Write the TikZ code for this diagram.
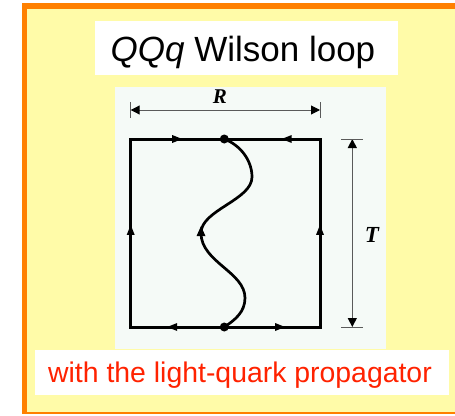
\documentclass[tikz,border=0pt]{standalone}
\usepackage{fontspec}
\setmainfont{Liberation Sans}
\newfontfamily\timesf{Liberation Serif}
\usetikzlibrary{arrows.meta,decorations.markings}
\definecolor{bgorange}{RGB}{255,128,0}
\definecolor{bgyellow}{RGB}{255,251,168}
\definecolor{panelc}{RGB}{245,250,247}
\definecolor{redtxt}{RGB}{255,34,0}
\definecolor{dimgray}{RGB}{90,90,90}
\begin{document}
\begin{tikzpicture}[x=1pt,y=-1pt,
  loopline/.style={line width=3pt, line join=miter},
  arr/.style={postaction={decorate},decoration={markings,mark=at position #1 with {\fill (0pt,0pt)--(-10pt,4pt)--(-10pt,-4pt)--cycle;}}},
  wavearr/.style={postaction={decorate},decoration={markings,mark=at position 0.999 with {\fill (7pt,0pt)--(-3pt,4.5pt)--(-3pt,-4.5pt)--cycle;}}},
  dimline/.style={draw=dimgray, line width=1pt, {Triangle[length=9pt,width=9pt,color=black]}-{Triangle[length=9pt,width=9pt,color=black]}},
  dimtick/.style={draw=dimgray, line width=1pt},
  qdot/.style={circle, fill=black, inner sep=0pt, minimum size=9pt},
  whitebox/.style={fill=white, inner sep=0pt}]
\useasboundingbox (0,0) rectangle (455,415);
\fill[white] (0,0) rectangle (455,415);
\fill[bgyellow] (22,3) rectangle (455,414);
\fill[bgorange] (22,3) rectangle (27,414);
\fill[bgorange] (22,3) rectangle (455,9);
\fill[bgorange] (22,412) rectangle (455,414);
% title
\node (titlebox) [whitebox, minimum width=303pt, minimum height=54pt] at (246.5,48) {};
\node (title) [anchor=base, inner sep=0pt, font=\fontsize{35}{40}\selectfont] at (243,61) {\textit{QQq} Wilson loop};
% panel
\fill[panelc] (115,87) rectangle (386,349);
% caption
\node (capbox) [whitebox, minimum width=414pt, minimum height=45pt] at (242,372.5) {};
\node (caption) [anchor=base, inner sep=0pt, text=redtxt, font=\fontsize{28.4}{32}\selectfont] at (240,382) {with the light-quark propagator};
% loop
\coordinate (TL) at (130.7,139);
\coordinate (TR) at (320,139);
\coordinate (BL) at (130.7,327);
\coordinate (BR) at (320,327);
\coordinate (Tq) at (224.3,139);
\coordinate (Bq) at (224.3,327);
\coordinate (M) at (201,233);
\draw[loopline] (TL) rectangle (BR);
\path[arr=0.61] (Bq) -- (BL);
\path[arr=0.543] (BL) -- (TL);
\path[arr=0.55] (TL) -- (Tq);
\path[arr=0.635] (Bq) -- (BR);
\path[arr=0.543] (BR) -- (TR);
\path[arr=0.40] (TR) -- (Tq);
% light-quark propagator
\draw[line width=2.7pt, wavearr] (Bq) .. controls (235,320) and (245,312) .. (245,298) .. controls (245,272) and (201,262) .. (M);
\draw[line width=2.7pt] (M) .. controls (201,210) and (252,200) .. (252,177) .. controls (252,160) and (240,145) .. (Tq);
\node[qdot] (dT) at (Tq) {};
\node[qdot] (dB) at (Bq) {};
% R dimension
\coordinate (Ra) at (130.7,110);
\coordinate (Rb) at (320,110);
\draw[dimline] (Ra) -- (Rb);
\draw[dimtick] ([yshift=8pt]Ra) -- ([yshift=-8pt]Ra);
\draw[dimtick] ([yshift=8pt]Rb) -- ([yshift=-8pt]Rb);
\node (Rlab) [inner sep=0pt, font=\timesf\bfseries\itshape\fontsize{21}{24}\selectfont] at (220,96.5) {R};
% T dimension
\coordinate (Ta) at (352.3,139);
\coordinate (Tb) at (352.3,327);
\draw[dimline] (Ta) -- (Tb);
\draw[dimtick] ([xshift=-11pt]Ta) -- ([xshift=11pt]Ta);
\draw[dimtick] ([xshift=-11pt]Tb) -- ([xshift=11pt]Tb);
\node (Tlab) [inner sep=0pt, font=\timesf\bfseries\itshape\fontsize{23}{26}\selectfont] at (372,234.5) {T};
\end{tikzpicture}
\end{document}
